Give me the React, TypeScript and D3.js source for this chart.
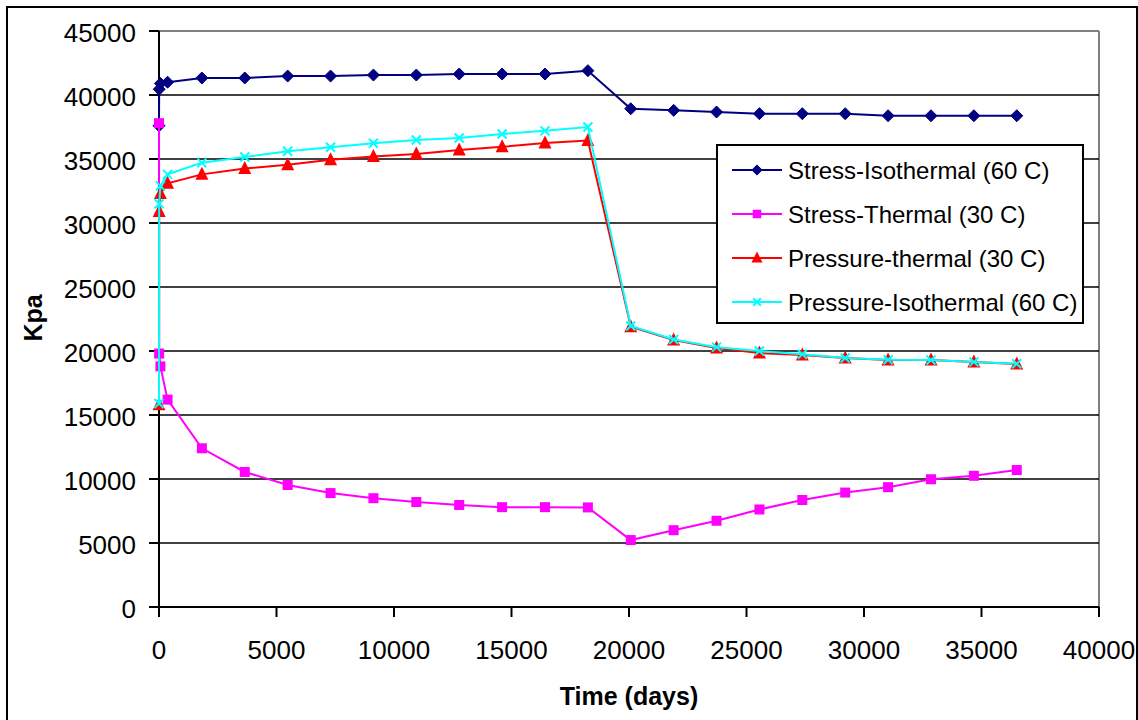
import React from "react";
import * as d3 from "d3";

const days = [0, 7, 60, 365, 1825, 3650, 5475, 7300, 9125, 10950, 12775, 14600, 16425, 18250, 20075, 21900, 23725, 25550, 27375, 29200, 31025, 32850, 34675, 36500];

const stressIsothermal = [37600, 40450, 40900, 41000, 41330, 41330, 41480, 41480, 41560, 41560, 41640, 41640, 41640, 41900, 38930, 38800, 38670, 38540, 38540, 38540, 38380, 38380, 38380, 38380];
const stressThermal = [37800, 19800, 18800, 16200, 12400, 10550, 9530, 8900, 8500, 8200, 7970, 7800, 7800, 7780, 5230, 6000, 6740, 7620, 8360, 8940, 9360, 9980, 10250, 10700];
const pressureThermal = [15800, 30900, 32300, 33100, 33800, 34250, 34550, 34950, 35200, 35400, 35700, 35950, 36250, 36450, 21900, 20860, 20230, 19840, 19690, 19450, 19300, 19300, 19140, 18980];
const pressureIsothermal = [15900, 31500, 32900, 33800, 34700, 35150, 35600, 35920, 36230, 36480, 36640, 36950, 37200, 37500, 21950, 20900, 20300, 20000, 19750, 19450, 19320, 19300, 19150, 19000];

const seriesNames = ["Stress-Isothermal (60 C)", "Stress-Thermal (30 C)", "Pressure-thermal (30 C)", "Pressure-Isothermal (60 C)"];
const seriesColors = ["#000080", "#FF00FF", "#FF0000", "#00FFFF"];
const seriesMarkers = ["diamond", "square", "triangle", "cross"];
const seriesValues = [stressIsothermal, stressThermal, pressureThermal, pressureIsothermal];

const xTicks = [0, 5000, 10000, 15000, 20000, 25000, 30000, 35000, 40000];
const yTicks = [0, 5000, 10000, 15000, 20000, 25000, 30000, 35000, 40000, 45000];

const PL = 159, PR = 1099, PT = 31, PB = 607;
const FONT = "'Liberation Sans', Arial, sans-serif";

function Marker({ type, x, y, color, small }: { type: string; x: number; y: number; color: string; small?: boolean }) {
  const k = small ? 0.85 : 1;
  if (type === "diamond") {
    const r = 6 * k;
    return <path d={`M${x},${y - r}L${x + r},${y}L${x},${y + r}L${x - r},${y}Z`} fill={color} stroke={color} strokeWidth={1} />;
  }
  if (type === "square") {
    const r = 5 * k;
    return <rect x={x - r} y={y - r} width={2 * r} height={2 * r} fill={color} />;
  }
  if (type === "triangle") {
    const r = 6.5 * k;
    return <path d={`M${x},${y - r - 1}L${x + r},${y + r - 1}L${x - r},${y + r - 1}Z`} fill={color} />;
  }
  const r = 4.5 * k;
  return <path d={`M${x - r},${y - r}L${x + r},${y + r}M${x - r},${y + r}L${x + r},${y - r}`} stroke={color} strokeWidth={2} fill="none" />;
}

export default function App() {
  const x = d3.scaleLinear().domain([0, 40000]).range([PL, PR]);
  const y = d3.scaleLinear().domain([0, 45000]).range([PB, PT]);
  const line = d3.line<[number, number]>().x((d) => x(d[0])).y((d) => y(d[1]));

  const legX = 717, legY = 145, legW = 366, legH = 178;
  const rowY = [170, 214, 258, 302];

  return (
    <svg width={1138} height={720} style={{ position: "absolute", left: 0, top: 0, background: "#fff" }} fontFamily={FONT}>
      <rect x={0} y={0} width={1138} height={720} fill="#fff" />
      <rect x={7} y={7} width={1130} height={740} fill="none" stroke="#000" strokeWidth={2} />
      {/* plot border */}
      <line x1={PL} y1={PT} x2={PR} y2={PT} stroke="#808080" strokeWidth={2} />
      <line x1={PR} y1={PT} x2={PR} y2={PB} stroke="#808080" strokeWidth={2} />
      {/* gridlines */}
      {yTicks.filter((t) => t > 0 && t < 45000).map((t) => (
        <line key={t} x1={PL} x2={PR} y1={y(t)} y2={y(t)} stroke="#000" strokeWidth={1.6} />
      ))}
      {/* axes */}
      <line x1={PL} y1={PT} x2={PL} y2={PB} stroke="#000" strokeWidth={2} />
      <line x1={PL} y1={PB} x2={PR} y2={PB} stroke="#000" strokeWidth={2} />
      {yTicks.map((t) => (
        <g key={t}>
          <line x1={PL - 10} x2={PL} y1={y(t)} y2={y(t)} stroke="#000" strokeWidth={2} />
          <text x={136} y={y(t)} dy="0.42em" textAnchor="end" fontSize={26}>{t}</text>
        </g>
      ))}
      {xTicks.map((t) => (
        <g key={t}>
          <line x1={x(t)} x2={x(t)} y1={PB} y2={PB + 10} stroke="#000" strokeWidth={2} />
          <text x={x(t)} y={659} textAnchor="middle" fontSize={26}>{t}</text>
        </g>
      ))}
      <text x={629} y={705} textAnchor="middle" fontSize={25} fontWeight="bold">Time (days)</text>
      <text transform={`translate(42,318) rotate(-90)`} textAnchor="middle" fontSize={25} fontWeight="bold">Kpa</text>
      {/* series */}
      {seriesValues.map((vals, si) => {
        const pts: [number, number][] = days.map((d, i) => [d, vals[i]]);
        return (
          <g key={si}>
            <path d={line(pts) || ""} fill="none" stroke={seriesColors[si]} strokeWidth={2} />
            {pts.map((p, i) => (
              <Marker key={i} type={seriesMarkers[si]} x={x(p[0])} y={y(p[1])} color={seriesColors[si]} />
            ))}
          </g>
        );
      })}
      {/* legend */}
      <rect x={legX} y={legY} width={legW} height={legH} fill="#fff" stroke="#000" strokeWidth={2} />
      {seriesNames.map((n, i) => (
        <g key={n}>
          <line x1={732} x2={782} y1={rowY[i]} y2={rowY[i]} stroke={seriesColors[i]} strokeWidth={2} />
          <Marker type={seriesMarkers[i]} x={757} y={rowY[i]} color={seriesColors[i]} small />
          <text x={788} y={rowY[i]} dy="0.36em" fontSize={24}>{n}</text>
        </g>
      ))}
    </svg>
  );
}
